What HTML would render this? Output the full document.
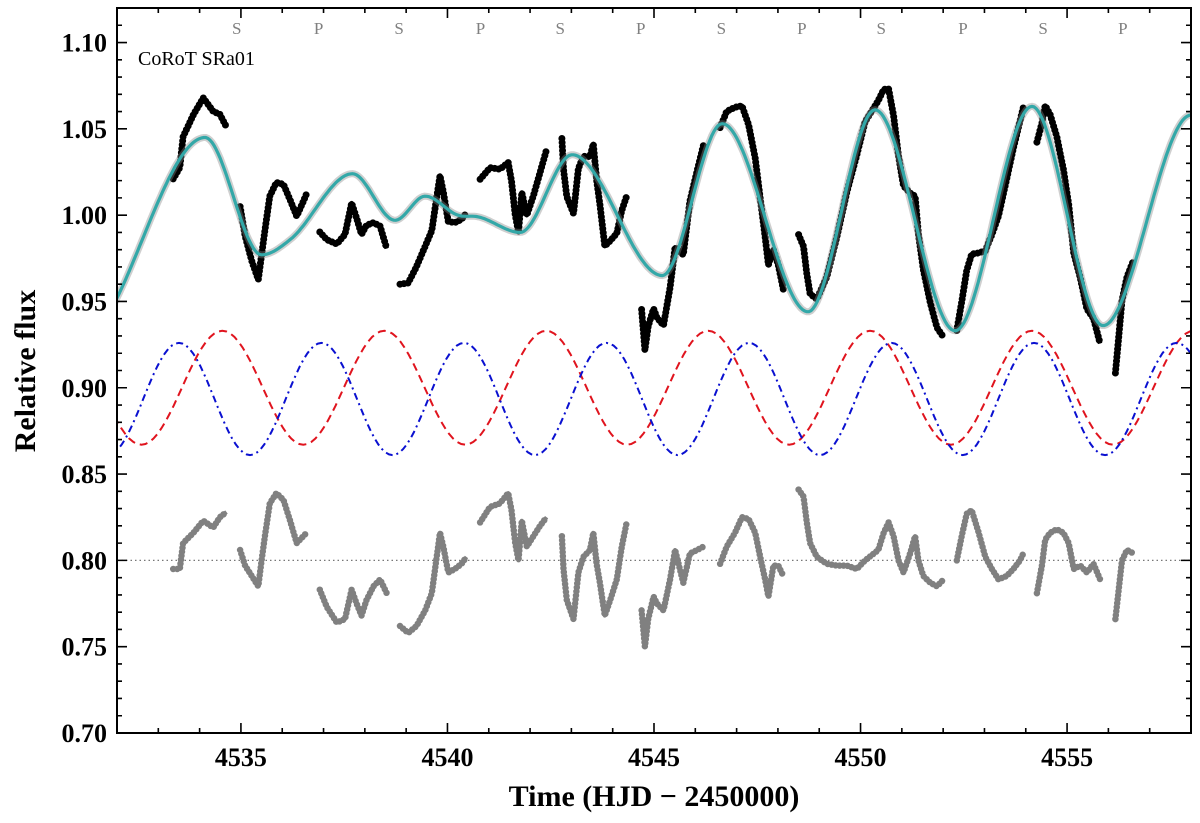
<!DOCTYPE html>
<html><head><meta charset="utf-8"><style>
body{margin:0;background:#fff}
svg text{font-family:"Liberation Serif",serif}
</style></head><body>
<svg id="chart" width="1200" height="818" xmlns="http://www.w3.org/2000/svg">
<g id="plot"></g>
</svg>
<script>
// ---- data ----
const modelT=[4531.5,4532,4534.13,4535.5,4536.2,4537.7,4538.73,4539.46,4540.25,4540.75,4541.76,4543.02,4545.2,4546.65,4548.73,4550.35,4552.29,4554.15,4555.87,4558,4558.5];
const modelV=[0.925,0.952,1.045,0.977,0.986,1.024,0.997,1.011,1.0,0.999,0.990,1.035,0.965,1.053,0.944,1.061,0.933,1.063,0.936,1.058,1.054];
const resT=[4533.36,4533.52,4533.6,4533.85,4534.09,4534.33,4534.49,4534.65,null,
4534.98,4535.1,4535.26,4535.42,4535.5,4535.58,4535.7,4535.86,4536.03,4536.19,4536.35,4536.51,4536.59,null,
4536.91,4537.08,4537.32,4537.52,4537.68,4537.8,4537.92,4538.04,4538.21,4538.37,4538.53,null,
4538.85,4539.05,4539.25,4539.46,4539.62,4539.74,4539.82,4539.9,4540.02,4540.18,4540.34,4540.46,null,
4540.79,4541.03,4541.27,4541.47,4541.55,4541.64,4541.72,4541.8,4541.92,4542.08,4542.24,4542.4,null,
4542.77,4542.81,4542.89,4543.05,4543.17,4543.29,4543.45,4543.53,4543.61,4543.69,4543.81,4543.94,4544.1,4544.22,4544.34,null,
4544.7,4544.78,4544.86,4544.99,4545.07,4545.23,4545.39,4545.51,4545.71,4545.87,4546.04,4546.2,null,
4546.6,4546.76,4546.96,4547.13,4547.29,4547.45,4547.57,4547.69,4547.77,4547.89,4548.01,4548.13,null,
4548.5,4548.62,4548.7,4548.78,4548.94,4549.18,4549.43,4549.67,4549.91,4550.11,
4550.43,4550.56,4550.68,4550.8,4550.92,4551.04,4551.2,4551.32,4551.4,4551.52,4551.69,4551.85,4552.01,null,
4552.33,4552.45,4552.57,4552.69,4552.86,4553.02,4553.18,4553.34,4553.54,4553.7,4553.86,4553.94,null,
4554.27,4554.39,4554.47,4554.59,4554.75,4554.91,4555.04,4555.16,4555.32,4555.48,4555.64,4555.8,null,
4556.17,4556.25,4556.33,4556.45,4556.61];
const resV=[0.795,0.795,0.81,0.816,0.823,0.819,0.825,0.828,null,
0.806,0.797,0.791,0.785,0.8,0.814,0.833,0.839,0.835,0.823,0.81,0.814,0.816,null,
0.783,0.773,0.764,0.766,0.783,0.775,0.768,0.777,0.785,0.789,0.781,null,
0.762,0.758,0.762,0.771,0.781,0.802,0.816,0.808,0.793,0.795,0.798,0.802,null,
0.822,0.831,0.833,0.839,0.829,0.81,0.8,0.823,0.808,0.814,0.82,0.825,null,
0.814,0.795,0.777,0.766,0.793,0.802,0.806,0.816,0.798,0.787,0.768,0.777,0.789,0.808,0.822,null,
0.771,0.75,0.766,0.779,0.775,0.771,0.789,0.806,0.787,0.804,0.806,0.808,null,
0.798,0.808,0.816,0.825,0.824,0.816,0.802,0.789,0.779,0.797,0.797,0.791,null,
0.841,0.837,0.822,0.81,0.802,0.798,0.797,0.797,0.795,0.8,
0.806,0.816,0.822,0.814,0.8,0.793,0.804,0.814,0.8,0.791,0.787,0.785,0.789,null,
0.8,0.814,0.827,0.829,0.816,0.802,0.795,0.789,0.791,0.795,0.8,0.804,null,
0.781,0.797,0.812,0.816,0.818,0.816,0.81,0.795,0.797,0.793,0.798,0.789,null,
0.766,0.783,0.8,0.806,0.804];
const blueT=[4530.05,4531.77,4533.5,4535.22,4536.95,4538.67,4540.4,4542.12,4543.85,4545.57,4547.3,4549.02,4550.75,4552.47,4554.2,4555.92,4557.65,4559.4];
const blueV=[0.926,0.861,0.926,0.861,0.926,0.861,0.926,0.861,0.926,0.861,0.926,0.861,0.926,0.861,0.926,0.861,0.926,0.861];
const redT=[4530.63,4532.59,4534.55,4536.51,4538.47,4540.43,4542.39,4544.35,4546.31,4548.27,4550.23,4552.19,4554.15,4556.11,4558.07];
const redV=[0.933,0.867,0.933,0.867,0.933,0.867,0.933,0.867,0.933,0.867,0.933,0.867,0.933,0.867,0.933];
const xTicks=[4535,4540,4545,4550,4555];
const yTicks=[0.70,0.75,0.80,0.85,0.90,0.95,1.00,1.05,1.10];
const phaseLabels=["S","P","S","P","S","P","S","P","S","P","S","P"];
const phaseTimes=[4534.9,4536.88,4538.83,4540.8,4542.73,4544.68,4546.63,4548.58,4550.5,4552.48,4554.42,4556.35];

// ---- axes ----
const L=117,R=1191,T=8,B=733,X0=4532,X1=4558,Y0=0.70,Y1=1.12;
const sx=t=>L+(t-X0)/(X1-X0)*(R-L);
const sy=v=>B-(v-Y0)/(Y1-Y0)*(B-T);
const NS="http://www.w3.org/2000/svg";
const svg=document.getElementById('chart');
const plot=document.getElementById('plot');
function mk(tag,attrs,parent){const e=document.createElementNS(NS,tag);for(const k in attrs)e.setAttribute(k,attrs[k]);(parent||svg).appendChild(e);return e;}

const cp=mk('clipPath',{id:'clip'});mk('rect',{x:L,y:T,width:R-L,height:B-T},cp);
plot.setAttribute('clip-path','url(#clip)');

function slopes(ts,vs){const m=[];for(let i=0;i<ts.length;i++){if(i==0)m.push((vs[1]-vs[0])/(ts[1]-ts[0]));else if(i==ts.length-1)m.push((vs[i]-vs[i-1])/(ts[i]-ts[i-1]));else{const a=(vs[i]-vs[i-1])/(ts[i]-ts[i-1]),b=(vs[i+1]-vs[i])/(ts[i+1]-ts[i]);m.push(a*b<=0?0:(a+b)/2);}}return m;}
const mS=slopes(modelT,modelV);
function model(t){let i=0;while(i<modelT.length-2&&t>modelT[i+1])i++;const h=modelT[i+1]-modelT[i],u=(t-modelT[i])/h;const h00=2*u*u*u-3*u*u+1,h10=u*u*u-2*u*u+u,h01=-2*u*u*u+3*u*u,h11=u*u*u-u*u;return h00*modelV[i]+h10*h*mS[i]+h01*modelV[i+1]+h11*h*mS[i+1];}

const zl=mk('line',{x1:L,x2:R,y1:sy(0.8),y2:sy(0.8),stroke:'#777','stroke-width':1.2,'stroke-dasharray':'1.5 3'},plot);



function waveD(ts,vs){let d='';for(let i=0;i<ts.length-1;i++){for(let k=0;k<=20;k++){const u=k/20,t=ts[i]+(ts[i+1]-ts[i])*u,v=vs[i]+(vs[i+1]-vs[i])*(1-Math.cos(Math.PI*u))/2;d+=(d?'L':'M')+sx(t).toFixed(1)+','+sy(v).toFixed(1);}}return d;}
const red=mk('path',{d:waveD(redT,redV),fill:'none',stroke:'#e0141e','stroke-width':2,'stroke-dasharray':'8 5'},plot);


const blue=mk('path',{d:waveD(blueT,blueV),fill:'none',stroke:'#0a10d0','stroke-width':2,'stroke-dasharray':'7 4 2 4'},plot);



function segs(vals){const out=[];let cur=[];for(let i=0;i<resT.length;i++){if(resT[i]===null){if(cur.length)out.push(cur);cur=[];}else cur.push([resT[i],vals(i)]);}if(cur.length)out.push(cur);return out;}
function drawScatter(list,color,name,w){for(const s of list){let d='';s.forEach((p,j)=>{d+=(j?'L':'M')+sx(p[0]).toFixed(1)+','+sy(p[1]).toFixed(1);});
const p=mk('path',{d:d,fill:'none',stroke:color,'stroke-width':w,'stroke-linecap':'round','stroke-linejoin':'round','stroke-dasharray':'0 4'},plot);


const p2=mk('path',{d:d,fill:'none',stroke:color,'stroke-width':w-2.5,'stroke-linejoin':'round'},plot);

}}
drawScatter(segs(i=>resV[i]),'#808080','residual-points',6.5);
drawScatter(segs(i=>resV[i]-0.8+model(resT[i])),'#000','flux-points',7);

let md='';for(let t=4531.9;t<=4558.1;t+=0.05){md+=(md?'L':'M')+sx(t).toFixed(1)+','+sy(model(t)).toFixed(1);}
const band=mk('path',{d:md,fill:'none',stroke:'#888','stroke-width':7,'stroke-opacity':0.4},plot);


const cyan=mk('path',{d:md,fill:'none',stroke:'#33a8a8','stroke-width':3.2},plot);



const frame=mk('rect',{x:L,y:T,width:R-L,height:B-T,fill:'none',stroke:'#000','stroke-width':2});


let td='';
for(let t=4532;t<=4558;t++){const x=sx(t),len=(t%5==0)?10:5;td+=`M${x},${B}v${-len}M${x},${T}v${len}`;}
for(let k=70;k<=112;k++){const y=sy(k/100),len=(k%5==0)?10:5;td+=`M${L},${y}h${len}M${R},${y}h${-len}`;}
const ticks=mk('path',{d:td,stroke:'#000','stroke-width':1.6,fill:'none'});


xTicks.forEach(t=>{const e=mk('text',{x:sx(t),y:766,'text-anchor':'middle','font-size':26,'font-weight':'bold'});e.textContent=t;

});
yTicks.forEach(v=>{const e=mk('text',{x:107,y:sy(v)+9,'text-anchor':'end','font-size':26,'font-weight':'bold'});e.textContent=v.toFixed(2);

});
phaseLabels.forEach((s,i)=>{const e=mk('text',{x:sx(phaseTimes[i]),y:34,'text-anchor':'middle','font-size':17,fill:'#808080'});e.textContent=s;

});
</script>
<div style="position:absolute;left:0;top:0;width:1200px;height:818px;pointer-events:none">
<svg width="1200" height="818" xmlns="http://www.w3.org/2000/svg">
<text x="138" y="65" font-family="Liberation Serif, serif" font-size="20">CoRoT SRa01</text>
<text x="654" y="806" text-anchor="middle" font-family="Liberation Serif, serif" font-size="30" font-weight="bold">Time (HJD − 2450000)</text>
<text x="0" y="0" transform="translate(35,371) rotate(-90)" text-anchor="middle" font-family="Liberation Serif, serif" font-size="30" font-weight="bold">Relative flux</text>
</svg></div>
</body></html>
